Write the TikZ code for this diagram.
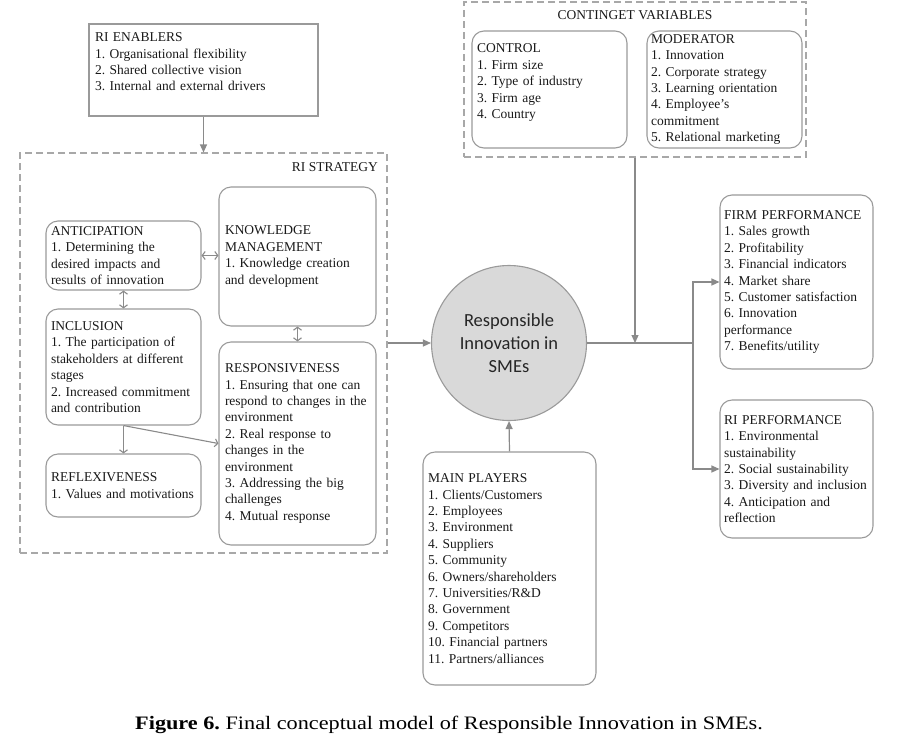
\documentclass[tikz,border=0pt]{standalone}
\usepackage{fontspec}
\setmainfont{Liberation Serif}
\newfontfamily\circfont{Carlito}
\newfontfamily\capfont[FakeStretch=1.17]{Liberation Serif}
\usetikzlibrary{arrows.meta}
\definecolor{edge}{HTML}{9A9A9A}
\definecolor{dedge}{HTML}{A8A8A8}
\definecolor{arrowc}{HTML}{8A8A8A}
\definecolor{circfill}{HTML}{D9D9D9}
\frenchspacing
\hyphenpenalty=10000
\exhyphenpenalty=10000
\tikzset{
 boxtext/.style={font=\fontsize{13.5}{16.4}\selectfont, align=left, inner xsep=4pt, inner ysep=0pt, text=black!90},
 rbox/.style={boxtext, draw=edge, line width=1.1pt, rounded corners=12pt},
 sbox/.style={boxtext, draw=edge, line width=1.1pt},
 dbox/.style={draw=dedge, line width=1.1pt, dash pattern=on 7pt off 4pt, inner sep=0pt},
 arr/.style={draw=arrowc, line width=1.2pt, -{Triangle[length=8pt,width=7pt]}},
 darr/.style={draw=arrowc, line width=1.1pt, {Straight Barb[length=3pt,width=8pt]}-{Straight Barb[length=3pt,width=8pt]}},
 oarr/.style={draw=arrowc, line width=1.1pt, -{Straight Barb[length=3pt,width=8pt]}},
 plain/.style={draw=arrowc, line width=1.2pt},
}
\begin{document}
\begin{tikzpicture}[x=1pt,y=-1pt]
\useasboundingbox (0,0) rectangle (909,742);

% dashed groups
\node[dbox, minimum width=367pt, minimum height=400pt] (strat) at (203.5,353) {};
\node[boxtext, anchor=east] (stratlbl) at (382,167) {RI STRATEGY};
\node[dbox, minimum width=342pt, minimum height=155pt] (contin) at (635,79.5) {};
\node[boxtext] (continlbl) at (635,15) {CONTINGET VARIABLES};

% enablers
\node[sbox, inner xsep=6pt, minimum width=229pt, minimum height=92pt, text width=217pt] (enab) at (203.5,70)
 {RI ENABLERS\\1. Organisational flexibility\\2. Shared collective vision\\3. Internal and external drivers\\\mbox{}};

% strategy boxes
\node[rbox, inner xsep=5pt, minimum width=155pt, minimum height=69pt, text width=145pt] (antic) at (123.5,255.5)
 {ANTICIPATION\\1. Determining the\\desired impacts and\\results of innovation};
\node[rbox, inner xsep=6pt, minimum width=157pt, minimum height=139pt, text width=145pt] (know) at (297.5,256.5)
 {KNOWLEDGE\\MANAGEMENT\\1. Knowledge creation\\and development};
\node[rbox, inner xsep=5pt, minimum width=155pt, minimum height=116pt, text width=145pt] (incl) at (123.5,367)
 {INCLUSION\\1. The participation of\\stakeholders at different\\stages\\2. Increased commitment\\and contribution};
\node[rbox, inner xsep=6pt, minimum width=157pt, minimum height=203pt, text width=145pt] (resp) at (297.5,443.5)
 {RESPONSIVENESS\\1. Ensuring that one can\\respond to changes in the\\environment\\2. Real response to\\changes in the\\environment\\3. Addressing the big\\challenges\\4. Mutual response};
\node[rbox, inner xsep=5pt, minimum width=155pt, minimum height=63pt, text width=145pt] (refl) at (123.5,485.5)
 {REFLEXIVENESS\\1. Values and motivations};

% contingent boxes
\node[rbox, inner xsep=5pt, minimum width=155pt, minimum height=117pt, text width=145pt] (ctrl) at (549.5,89.5)
 {CONTROL\\1. Firm size\\2. Type of industry\\3. Firm age\\4. Country\\\mbox{}};
\node[rbox, minimum width=155pt, minimum height=117pt, text width=147pt] (mod) at (724.5,89.5)
 {MODERATOR\\1. Innovation\\2. Corporate strategy\\3. Learning orientation\\4. Employee's\\commitment\\5. Relational marketing};

% centre
\node[circle, draw=edge, fill=circfill, line width=1.1pt, minimum size=155pt, inner sep=0pt,
 font=\circfont\fontsize{18.5}{23}\selectfont, align=center, text=black!85] (circ) at (509,343)
 {Responsible\\Innovation in\\SMEs};

% outcomes
\node[rbox, minimum width=153pt, minimum height=174pt, text width=145pt] (firm) at (796.5,282)
 {FIRM PERFORMANCE\\1. Sales growth\\2. Profitability\\3. Financial indicators\\4. Market share\\5. Customer satisfaction\\6. Innovation\\performance\\7. Benefits/utility};
\node[rbox, minimum width=153pt, minimum height=138pt, text width=145pt] (riperf) at (796.5,469)
 {RI PERFORMANCE\\1. Environmental\\sustainability\\2. Social sustainability\\3. Diversity and inclusion\\4. Anticipation and\\reflection};

% main players
\node[rbox, inner xsep=5pt, minimum width=173pt, minimum height=233pt, text width=163pt] (main) at (509.5,568.5)
 {MAIN PLAYERS\\1. Clients/Customers\\2. Employees\\3. Environment\\4. Suppliers\\5. Community\\6. Owners/shareholders\\7. Universities/R\&D\\8. Government\\9. Competitors\\10. Financial partners\\11. Partners/alliances};

% caption
\node[font=\capfont\fontsize{19}{23}\selectfont, inner sep=0pt] (cap) at (449,725)
 {\textbf{Figure 6.} Final conceptual model of Responsible Innovation in SMEs.};

% connectors
\draw[arr] (enab.south) -- (strat.north);
\draw[darr] (antic.east) -- (know.west |- antic.east);
\draw[darr] (antic.south) -- (incl.north);
\draw[darr] (know.south) -- (resp.north);
\draw[oarr] (incl.south) -- (refl.north);
\draw[oarr] (incl.south) -- (resp.west);
\draw[arr] (strat.east |- circ.west) -- (circ.west);
\draw[arr] (main.north) -- (circ.south);
\coordinate (split) at (693,343);
\draw[plain] (circ.east) -- (split);
\draw[arr] (split) |- (firm.west);
\draw[arr] (split) |- (riperf.west);
\draw[arr] (contin.south) -- (contin.south |- circ.east);
\end{tikzpicture}
\end{document}
